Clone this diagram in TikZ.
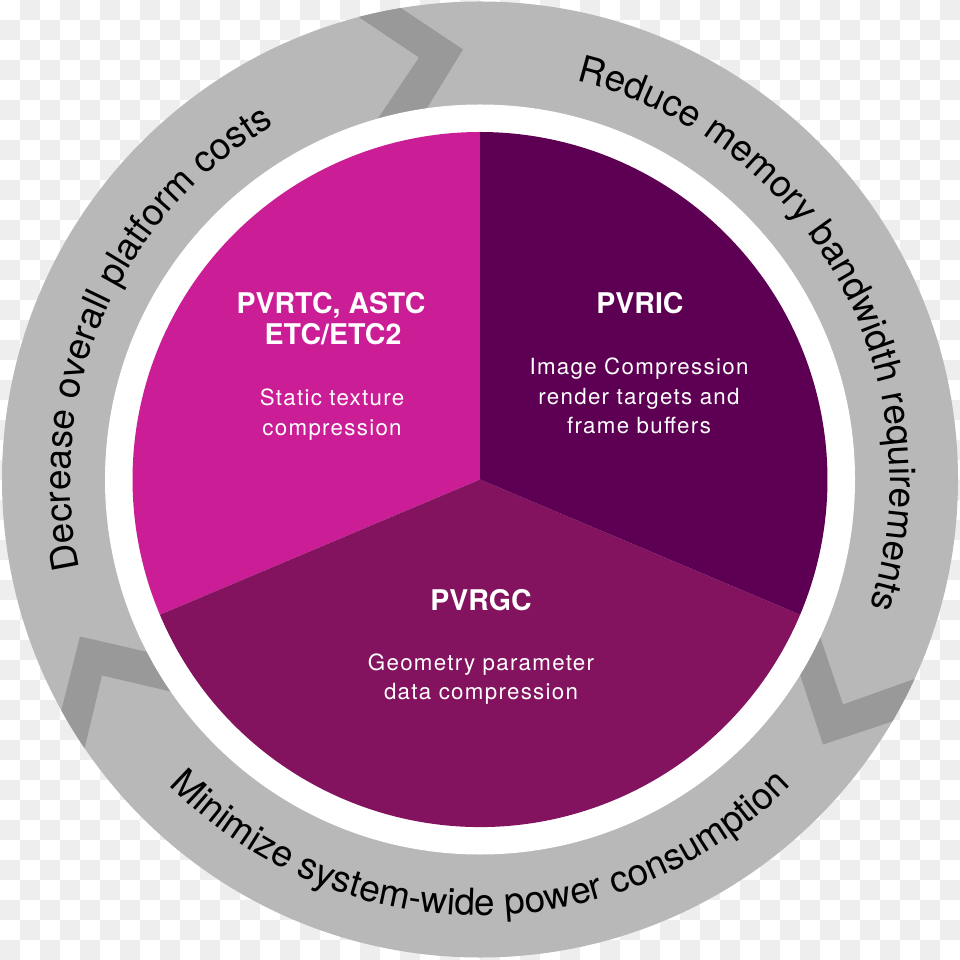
\documentclass[tikz,border=0pt]{standalone}
\usepackage{fontspec}
\setmainfont{TeX Gyre Heros}
\newfontfamily\descfont[LetterSpace=5.8]{TeX Gyre Heros}
\usetikzlibrary{decorations.text}
\definecolor{ringgray}{HTML}{B8B8B8}
\definecolor{chevgray}{HTML}{999999}
\definecolor{checkgray}{HTML}{EEEEEE}
\definecolor{pmag}{HTML}{CB1E96}
\definecolor{pdark}{HTML}{5D0054}
\definecolor{pmid}{HTML}{83135F}
\begin{document}
\begin{tikzpicture}[x=1pt,y=1pt,
  titletext/.style={text=white, font=\fontsize{28.5}{31}\selectfont\bfseries, inner sep=0pt, anchor=base},
  desctext/.style={text=white, font=\descfont\fontsize{22.3}{29.5}\selectfont, inner sep=0pt, anchor=base},
  chevron/.style={fill=chevgray, draw=none}]
\useasboundingbox (0,0) rectangle (960,959);
% background checkerboard
\fill[white] (0,0) rectangle (960,959);
\foreach \i in {0,...,47}{\foreach \j in {0,...,47}{%
  \pgfmathtruncatemacro\s{\i+\j}%
  \ifodd\s \fill[checkgray] (20*\i,939-20*\j) rectangle ++(20,20);\fi}}
\coordinate (C) at (480,479.5);
% ring
\fill[ringgray] (C) circle[radius=478];
\begin{scope}[shift={(C)}]
  \clip (0,0) circle[radius=478];
  \fill[chevron] (-152.5,483.5) -- (-111.5,493) -- (-17,430) -- (-69.5,344.5) -- (-122.5,330.5) -- (-61,422) -- cycle;
  \fill[chevron] (343,-265) -- (455.5,-227.5) -- (468,-187.5) -- (363,-225) -- (328.5,-123) -- (308.5,-160) -- cycle;
  \fill[chevron] (-400,-157) -- (-295,-181) -- (-268.5,-221.5) -- (-378,-196) -- (-403.5,-302.5) -- (-427,-263.5) -- cycle;
\end{scope}
\fill[white] (C) circle[radius=375];
% pie
\fill[pmag] (C) -- ++(90:347.5) arc[start angle=90, end angle=202.9, radius=347.5] -- cycle;
\fill[pmid] (C) -- ++(202.9:347.5) arc[start angle=202.9, end angle=337.1, radius=347.5] -- cycle;
\fill[pdark] (C) -- ++(-22.9:347.5) arc[start angle=-22.9, end angle=90, radius=347.5] -- cycle;
% ring texts
\path[decorate, decoration={text along path, text align=center,
  text={|\fontsize{37}{40}\selectfont|Decrease overall platform costs}}]
  (C) ++(206.3:410) arc[start angle=206.3, end angle=106.3, radius=410];
\path[decorate, decoration={text along path, text align=center,
  text={|\fontsize{37}{40}\selectfont|Reduce memory bandwidth requirements}}]
  (C) ++(89.15:410) arc[start angle=89.15, end angle=-30.85, radius=410];
\path[decorate, decoration={text along path, text align=center,
  text={|\fontsize{37}{40}\selectfont|Minimize system-wide power consumption}}]
  (C) ++(210:436) arc[start angle=210, end angle=330, radius=436];
% sector texts
\node[titletext] (tl1) at (331,645) {PVRTC, ASTC};
\node[titletext] (tl2) at (333,614) {ETC/ETC2};
\node[desctext] (dl1) at (332,553) {Static texture};
\node[desctext] (dl2) at (332,523.5) {compression};
\node[titletext] (tr1) at (640,645) {PVRIC};
\node[desctext] (dr1) at (639,584) {Image Compression};
\node[desctext] (dr2) at (639,554.5) {render targets and};
\node[desctext] (dr3) at (639,525) {frame buffers};
\node[titletext] (tb1) at (481,348.5) {PVRGC};
\node[desctext] (db1) at (481,289) {Geometry parameter};
\node[desctext] (db2) at (481,259.5) {data compression};
\end{tikzpicture}
\end{document}
